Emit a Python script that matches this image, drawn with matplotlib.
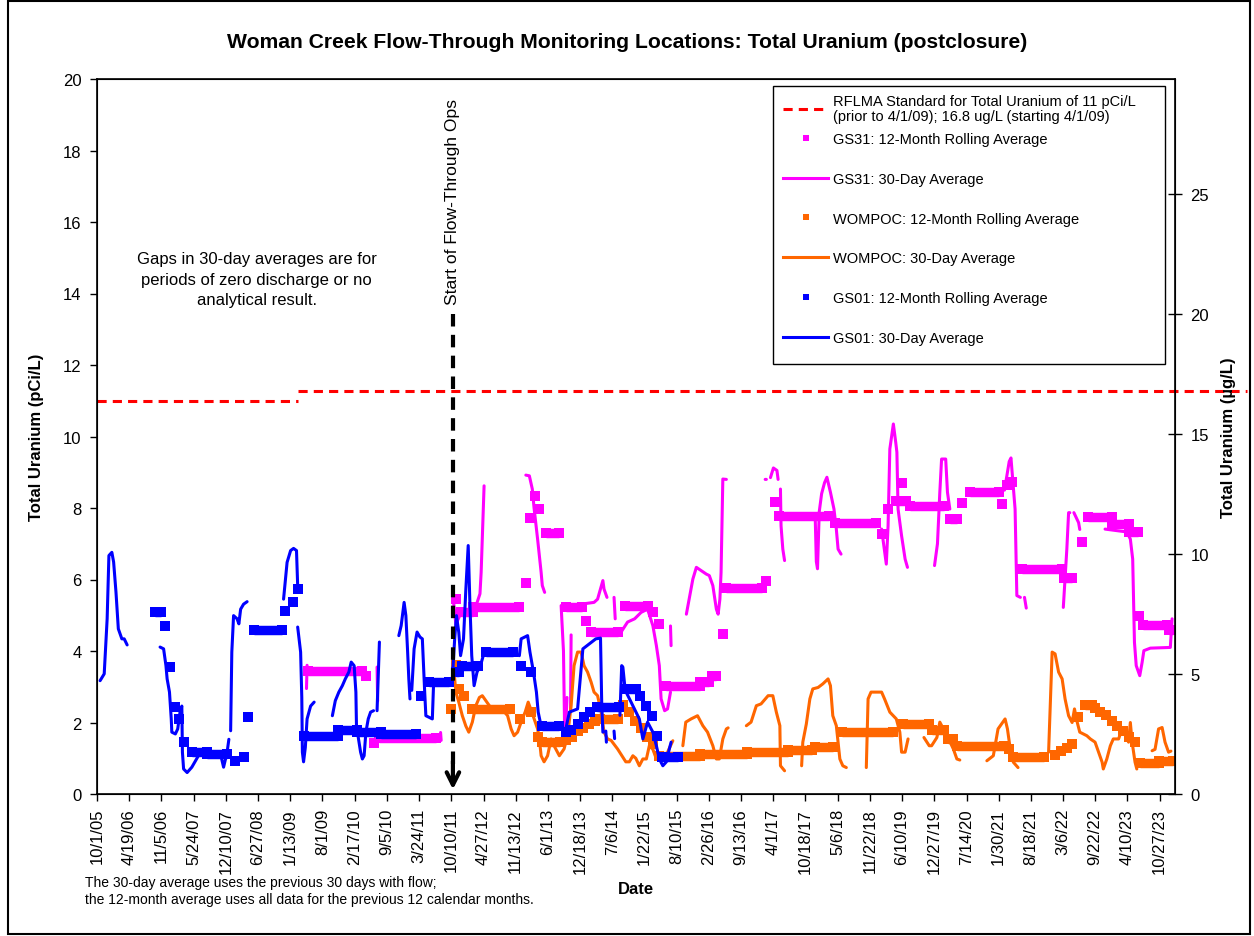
"""Woman Creek flow-through monitoring: total uranium (postclosure)."""

import datetime as dt

import matplotlib

matplotlib.use("Agg")
import matplotlib.pyplot as plt
import numpy as np
from matplotlib.lines import Line2D
from matplotlib.patches import Rectangle

plt.rcParams["font.family"] = ["Liberation Sans", "DejaVu Sans"]

# x values are decimal years
TICK_LABELS = [
    "10/1/05", "4/19/06", "11/5/06", "5/24/07", "12/10/07", "6/27/08", "1/13/09",
    "8/1/09", "2/17/10", "9/5/10", "3/24/11", "10/10/11", "4/27/12", "11/13/12",
    "6/1/13", "12/18/13", "7/6/14", "1/22/15", "8/10/15", "2/26/16", "9/13/16",
    "4/1/17", "10/18/17", "5/6/18", "11/22/18", "6/10/19", "12/27/19", "7/14/20",
    "1/30/21", "8/18/21", "3/6/22", "9/22/22", "4/10/23", "10/27/23",
]
X_END = "1/30/24"

PCI_TO_UGL = 1.49
STANDARD_OLD = 11.0  # pCi/L, prior to 4/1/09
STANDARD_NEW_UGL = 16.8  # ug/L, starting 4/1/09
STANDARD_SWITCH_YEAR = 2009.16
STANDARD_LINE_END = 2025.31
FLOW_THROUGH_START = 2011.80

# 30-day averages: segments of (year, pCi/L); gaps between segments
gs01_30day = [
    [(2005.80, 3.17), (2005.87, 3.36), (2005.92, 4.90), (2005.95, 6.67), (2006.00, 6.76),
     (2006.03, 6.49), (2006.07, 5.65), (2006.11, 4.62), (2006.17, 4.34), (2006.21, 4.34),
     (2006.26, 4.17)],
    [(2006.82, 4.11), (2006.88, 4.06), (2006.92, 3.59), (2006.94, 3.22), (2006.98, 2.85),
     (2007.01, 2.10), (2007.02, 1.73), (2007.08, 1.68), (2007.12, 1.82), (2007.16, 2.30),
     (2007.19, 2.46), (2007.20, 1.17), (2007.22, 0.70), (2007.28, 0.60), (2007.36, 0.75),
     (2007.50, 1.15), (2007.85, 1.10), (2007.90, 0.75), (2007.96, 1.17), (2007.99, 1.53)],
    [(2008.02, 1.77), (2008.04, 3.97), (2008.07, 4.99), (2008.13, 4.90), (2008.16, 4.76),
     (2008.19, 5.17), (2008.24, 5.31), (2008.30, 5.38)],
    [(2008.92, 5.45), (2008.98, 6.48), (2009.04, 6.81), (2009.09, 6.87), (2009.14, 6.81),
     (2009.16, 5.83)],
    [(2009.16, 4.67), (2009.21, 3.97), (2009.23, 2.70), (2009.24, 1.17), (2009.26, 0.90),
     (2009.29, 1.30), (2009.32, 2.10), (2009.38, 2.46), (2009.44, 2.57)],
    [(2009.75, 2.19), (2009.80, 2.61), (2009.86, 2.85), (2009.92, 3.03), (2009.97, 3.22),
     (2010.03, 3.41), (2010.07, 3.69), (2010.12, 3.59), (2010.15, 2.85), (2010.16, 1.90),
     (2010.23, 1.17), (2010.26, 0.98), (2010.29, 1.07), (2010.32, 1.73), (2010.36, 2.10),
     (2010.40, 2.29), (2010.45, 2.33)],
    [(2010.51, 2.33), (2010.55, 4.25)],
    [(2010.88, 4.43), (2010.92, 4.71), (2010.97, 5.36), (2011.00, 4.99), (2011.03, 3.97),
     (2011.05, 3.22), (2011.07, 2.66)],
    [(2011.10, 2.90), (2011.14, 4.06), (2011.19, 4.53), (2011.24, 4.39), (2011.28, 4.34),
     (2011.30, 3.59), (2011.32, 2.85), (2011.34, 2.19), (2011.39, 2.15), (2011.45, 2.10),
     (2011.47, 3.03), (2011.59, 3.13), (2011.79, 3.22), (2011.83, 4.34), (2011.86, 4.99),
     (2011.90, 4.52), (2011.93, 3.87), (2011.98, 4.34), (2012.02, 5.73), (2012.06, 6.95),
     (2012.09, 5.27), (2012.12, 3.87), (2012.16, 3.03), (2012.21, 3.41), (2012.27, 3.60),
     (2012.33, 3.95), (2012.87, 3.90), (2012.93, 3.87), (2012.96, 4.34), (2013.07, 4.43),
     (2013.11, 3.97), (2013.17, 3.41), (2013.22, 2.85), (2013.25, 2.29), (2013.30, 1.90),
     (2013.64, 1.85), (2013.72, 1.82), (2013.78, 2.29), (2013.92, 2.38), (2014.01, 4.06),
     (2014.12, 4.20), (2014.23, 4.34), (2014.31, 4.36), (2014.33, 2.57), (2014.35, 1.73)],
    [(2014.40, 1.76), (2014.41, 1.45)],
    [(2014.54, 1.76), (2014.55, 1.55)],
    [(2014.64, 2.20), (2014.67, 3.59), (2014.69, 3.55), (2014.73, 2.90), (2014.83, 2.57),
     (2014.97, 2.10), (2015.03, 1.54), (2015.11, 2.01), (2015.20, 1.73), (2015.26, 1.35),
     (2015.31, 0.98), (2015.37, 0.79), (2015.43, 0.90), (2015.48, 1.26), (2015.51, 1.45)],
]

gs31_30day = [
    [(2009.31, 2.95), (2009.32, 3.60)],
    [(2010.51, 3.55), (2010.52, 2.60)],
    [(2011.59, 1.72), (2011.60, 1.50)],
    [(2011.80, 5.55), (2011.85, 4.75), (2011.92, 5.00), (2012.10, 5.15), (2012.20, 5.30),
     (2012.26, 5.60), (2012.28, 6.20), (2012.31, 7.69), (2012.33, 8.62)],
    [(2013.04, 8.92), (2013.10, 8.90), (2013.15, 8.53), (2013.18, 8.00), (2013.24, 7.13),
     (2013.30, 6.20), (2013.32, 5.83), (2013.36, 5.64)],
    [(2013.64, 5.27), (2013.68, 4.00), (2013.70, 1.75), (2013.73, 2.30), (2013.74, 2.70)],
    [(2013.80, 2.30), (2013.81, 4.45)],
    [(2013.83, 5.27), (2013.98, 5.31), (2014.20, 5.36), (2014.26, 5.45), (2014.35, 5.97),
     (2014.37, 5.73), (2014.42, 5.50)],
    [(2014.54, 5.50), (2014.56, 4.90)],
    [(2014.66, 4.53), (2014.77, 4.81), (2014.89, 4.90), (2015.00, 5.08), (2015.11, 5.17),
     (2015.20, 4.71), (2015.26, 4.15), (2015.31, 3.59), (2015.34, 2.66), (2015.40, 2.33),
     (2015.45, 2.38), (2015.50, 2.85)],
    [(2015.50, 4.70), (2015.51, 4.15)],
    [(2015.77, 5.03), (2015.88, 6.01), (2015.94, 6.34), (2016.02, 6.25), (2016.11, 6.15),
     (2016.16, 6.11), (2016.22, 5.83), (2016.28, 5.17), (2016.31, 5.03), (2016.34, 5.45),
     (2016.36, 6.20), (2016.39, 8.81), (2016.45, 8.80)],
    [(2017.11, 8.80), (2017.13, 8.80)],
    [(2017.20, 8.85), (2017.25, 9.12), (2017.31, 9.05), (2017.33, 8.80)],
    [(2017.37, 8.53), (2017.38, 7.50), (2017.41, 6.85), (2017.44, 6.53)],
    [(2017.96, 7.80), (2017.98, 6.50), (2018.00, 6.30), (2018.03, 7.90), (2018.07, 8.40),
     (2018.12, 8.71), (2018.16, 8.86), (2018.22, 8.44), (2018.28, 7.97), (2018.32, 7.41),
     (2018.35, 6.85), (2018.40, 6.71)],
    [(2019.09, 7.41), (2019.17, 6.43), (2019.20, 7.50), (2019.23, 9.65), (2019.29, 10.35),
     (2019.33, 9.84), (2019.35, 9.56), (2019.37, 7.97), (2019.43, 7.22), (2019.49, 6.57),
     (2019.53, 6.34)],
    [(2019.99, 6.39), (2020.04, 7.00), (2020.08, 8.44), (2020.11, 9.37), (2020.18, 9.37),
     (2020.21, 8.44), (2020.25, 7.97)],
    [(2021.18, 8.50), (2021.22, 8.90), (2021.26, 9.30), (2021.29, 9.40), (2021.36, 7.97),
     (2021.39, 5.55), (2021.45, 5.50)],
    [(2021.52, 5.50), (2021.55, 5.20)],
    [(2022.18, 5.22), (2022.24, 6.85), (2022.27, 7.87), (2022.29, 7.87)],
    [(2022.36, 7.87), (2022.44, 7.59), (2022.46, 7.40)],
    [(2022.89, 7.41), (2023.26, 7.33), (2023.32, 7.13), (2023.36, 6.57), (2023.39, 4.24),
     (2023.42, 3.59), (2023.48, 3.31), (2023.52, 3.68), (2023.55, 4.01), (2023.66, 4.08),
     (2024.00, 4.10), (2024.03, 4.90)],
]

wompoc_30day = [
    [(2011.81, 3.59), (2011.85, 2.85), (2011.90, 2.57), (2011.96, 2.19), (2012.02, 1.90),
     (2012.07, 1.73), (2012.13, 2.01), (2012.19, 2.47), (2012.25, 2.70), (2012.30, 2.75),
     (2012.45, 2.40), (2012.62, 2.40), (2012.73, 2.19), (2012.79, 1.82), (2012.84, 1.63),
     (2012.90, 1.73), (2012.96, 2.01), (2013.03, 2.30), (2013.08, 2.57), (2013.14, 2.30),
     (2013.24, 1.82), (2013.27, 1.54), (2013.30, 1.07), (2013.35, 0.90), (2013.41, 1.07),
     (2013.47, 1.54), (2013.52, 1.35), (2013.61, 1.07), (2013.69, 1.26), (2013.75, 1.63),
     (2013.81, 2.47), (2013.86, 3.59), (2013.92, 3.97), (2013.98, 3.97), (2014.03, 3.59),
     (2014.09, 3.41), (2014.15, 3.13), (2014.20, 2.85), (2014.26, 2.75), (2014.32, 2.30),
     (2014.37, 1.73), (2014.43, 1.54), (2014.49, 1.50), (2014.60, 1.26), (2014.69, 1.03),
     (2014.74, 0.90), (2014.80, 0.90), (2014.86, 1.07), (2014.91, 1.00), (2014.97, 0.79),
     (2015.03, 0.98), (2015.09, 0.98), (2015.14, 1.35), (2015.20, 1.25), (2015.26, 0.98)],
    [(2015.45, 1.17), (2015.54, 1.49)],
    [(2015.71, 1.35), (2015.76, 2.01), (2015.85, 2.10), (2015.96, 2.19), (2016.05, 1.91),
     (2016.13, 1.73), (2016.22, 1.35), (2016.28, 0.98), (2016.33, 0.98), (2016.39, 1.54),
     (2016.45, 1.82), (2016.48, 1.85)],
    [(2016.79, 1.91), (2016.87, 2.01), (2016.96, 2.47), (2017.04, 2.52), (2017.16, 2.75),
     (2017.24, 2.75), (2017.30, 2.29), (2017.36, 1.91), (2017.37, 0.79), (2017.44, 0.65)],
    [(2017.73, 0.79), (2017.75, 1.45), (2017.81, 1.96), (2017.87, 2.66), (2017.92, 2.94),
     (2018.01, 2.98), (2018.09, 3.08), (2018.18, 3.22), (2018.22, 3.03), (2018.26, 2.19),
     (2018.32, 1.91), (2018.38, 0.98), (2018.43, 0.79), (2018.49, 0.74)],
    [(2018.83, 0.74), (2018.86, 2.66), (2018.91, 2.85), (2019.09, 2.85), (2019.14, 2.66),
     (2019.23, 2.29), (2019.34, 2.10), (2019.40, 1.73), (2019.43, 1.17), (2019.49, 1.17),
     (2019.54, 1.54)],
    [(2019.81, 1.58), (2019.90, 1.35), (2019.94, 1.35), (2020.03, 1.58), (2020.08, 2.01),
     (2020.14, 1.82), (2020.23, 1.54), (2020.31, 1.26), (2020.37, 0.98), (2020.42, 0.95)],
    [(2020.88, 0.93), (2020.99, 1.07), (2021.07, 1.82), (2021.13, 1.96), (2021.19, 2.10),
     (2021.23, 1.82), (2021.27, 1.35), (2021.33, 0.89), (2021.41, 0.74)],
    [(2021.93, 1.17), (2021.99, 3.97), (2022.04, 3.92), (2022.10, 3.41), (2022.16, 3.22),
     (2022.21, 2.66), (2022.27, 2.19), (2022.33, 2.00), (2022.37, 2.38), (2022.41, 2.05),
     (2022.46, 1.73), (2022.58, 1.63), (2022.64, 1.54), (2022.72, 1.45), (2022.78, 1.17),
     (2022.84, 0.89), (2022.86, 0.70), (2022.92, 0.98), (2022.98, 1.35), (2023.03, 1.54),
     (2023.12, 1.54), (2023.18, 1.82), (2023.29, 1.45), (2023.32, 2.00), (2023.35, 1.45),
     (2023.40, 0.89), (2023.43, 0.70)],
    [(2023.69, 1.21), (2023.74, 1.25), (2023.80, 1.82), (2023.86, 1.86), (2023.91, 1.45),
     (2023.97, 1.17), (2024.01, 1.20)],
]

# 12-month rolling averages: runs of (first year, last year, pCi/L)
gs01_12month = [
    (2006.74, 2006.83, 5.08), (2006.90, 2006.90, 4.71), (2006.99, 2006.99, 3.55),
    (2007.07, 2007.07, 2.43), (2007.14, 2007.14, 2.10), (2007.22, 2007.22, 1.45),
    (2007.36, 2007.62, 1.17), (2007.62, 2007.95, 1.12), (2008.10, 2008.10, 0.93),
    (2008.24, 2008.24, 1.03), (2008.32, 2008.32, 2.15), (2008.41, 2008.90, 4.60),
    (2008.95, 2008.95, 5.13), (2009.08, 2009.08, 5.36), (2009.16, 2009.16, 5.73),
    (2009.27, 2009.85, 1.62), (2009.85, 2010.17, 1.80), (2010.17, 2010.57, 1.73),
    (2010.57, 2011.17, 1.67), (2011.25, 2011.25, 2.74), (2011.39, 2011.73, 3.13),
    (2011.85, 2011.90, 3.41), (2011.95, 2012.22, 3.59), (2012.36, 2012.83, 3.97),
    (2012.95, 2012.95, 3.59), (2013.12, 2013.12, 3.41), (2013.32, 2013.61, 1.90),
    (2013.72, 2013.72, 1.73), (2013.81, 2013.81, 1.78), (2013.92, 2013.92, 1.95),
    (2014.03, 2014.03, 2.15), (2014.13, 2014.13, 2.30), (2014.25, 2014.62, 2.43),
    (2014.74, 2014.92, 2.94), (2014.98, 2014.98, 2.75), (2015.09, 2015.09, 2.47),
    (2015.18, 2015.18, 2.19), (2015.27, 2015.27, 1.63), (2015.36, 2015.63, 1.03),
]

gs31_12month = [
    (2009.34, 2010.25, 3.45), (2010.33, 2010.33, 3.30), (2010.45, 2010.45, 1.42),
    (2010.55, 2011.51, 1.56), (2011.85, 2011.85, 5.45), (2011.93, 2012.15, 5.10),
    (2012.15, 2012.92, 5.22), (2013.04, 2013.04, 5.90), (2013.11, 2013.11, 7.71),
    (2013.20, 2013.20, 8.34), (2013.27, 2013.27, 7.97), (2013.38, 2013.61, 7.30),
    (2013.72, 2014.00, 5.22), (2014.07, 2014.07, 4.85), (2014.15, 2014.60, 4.53),
    (2014.72, 2015.12, 5.25), (2015.20, 2015.20, 5.08), (2015.30, 2015.30, 4.76),
    (2015.43, 2016.00, 3.02), (2016.00, 2016.15, 3.12), (2016.20, 2016.28, 3.31),
    (2016.40, 2016.40, 4.47), (2016.45, 2017.05, 5.77), (2017.12, 2017.12, 5.96),
    (2017.27, 2017.27, 8.17), (2017.35, 2018.20, 7.78), (2018.30, 2018.99, 7.57),
    (2019.10, 2019.10, 7.27), (2019.20, 2019.20, 7.97), (2019.34, 2019.51, 8.20),
    (2019.43, 2019.43, 8.71), (2019.57, 2020.15, 8.06), (2020.25, 2020.38, 7.69),
    (2020.46, 2020.46, 8.13), (2020.59, 2021.08, 8.45), (2021.14, 2021.14, 8.10),
    (2021.22, 2021.22, 8.65), (2021.31, 2021.31, 8.72), (2021.47, 2022.15, 6.29),
    (2022.20, 2022.33, 6.03), (2022.50, 2022.50, 7.04), (2022.60, 2023.00, 7.76),
    (2023.00, 2023.30, 7.55), (2023.30, 2023.45, 7.33), (2023.46, 2023.46, 4.99),
    (2023.54, 2023.95, 4.74), (2023.98, 2024.04, 4.60),
]

wompoc_12month = [
    (2011.76, 2011.76, 2.38), (2011.85, 2011.85, 3.60), (2011.90, 2011.90, 2.94),
    (2011.99, 2011.99, 2.75), (2012.12, 2012.77, 2.38), (2012.94, 2012.94, 2.10),
    (2013.12, 2013.12, 2.29), (2013.24, 2013.24, 1.59), (2013.31, 2013.62, 1.45),
    (2013.72, 2013.72, 1.50), (2013.82, 2013.82, 1.60), (2013.92, 2013.92, 1.75),
    (2014.02, 2014.02, 1.85), (2014.12, 2014.12, 1.95), (2014.22, 2014.22, 2.05),
    (2014.30, 2014.60, 2.10), (2014.70, 2014.70, 2.50), (2014.80, 2014.80, 2.30),
    (2014.90, 2014.90, 2.05), (2015.00, 2015.00, 1.85), (2015.10, 2015.10, 1.60),
    (2015.20, 2015.20, 1.40), (2015.30, 2016.00, 1.05), (2016.00, 2016.80, 1.12),
    (2016.80, 2017.50, 1.17), (2017.50, 2017.90, 1.22), (2017.95, 2018.27, 1.31),
    (2018.42, 2019.29, 1.73), (2019.45, 2019.90, 1.95), (2019.95, 2020.15, 1.78),
    (2020.22, 2020.30, 1.55), (2020.37, 2021.17, 1.33), (2021.25, 2021.25, 1.26),
    (2021.32, 2021.86, 1.03), (2022.04, 2022.04, 1.10), (2022.14, 2022.14, 1.20),
    (2022.24, 2022.24, 1.30), (2022.33, 2022.33, 1.40), (2022.43, 2022.43, 2.15),
    (2022.55, 2022.67, 2.48), (2022.72, 2022.72, 2.40), (2022.80, 2022.80, 2.30),
    (2022.90, 2022.90, 2.20), (2023.00, 2023.00, 2.05), (2023.10, 2023.10, 1.90),
    (2023.20, 2023.20, 1.75), (2023.30, 2023.30, 1.60), (2023.40, 2023.40, 1.45),
    (2023.48, 2023.80, 0.88), (2023.80, 2024.04, 0.92),
]

STANDARD_LABEL = "RFLMA Standard for Total Uranium of 11 pCi/L\n(prior to 4/1/09); 16.8 ug/L (starting 4/1/09)"
SERIES_LABELS = [
    "GS31: 12-Month Rolling Average",
    "GS31: 30-Day Average",
    "WOMPOC: 12-Month Rolling Average",
    "WOMPOC: 30-Day Average",
    "GS01: 12-Month Rolling Average",
    "GS01: 30-Day Average",
]

RED = "#FF0000"
MAGENTA = "#FF00FF"
ORANGE = "#FF6600"
BLUE = "#0000FF"
SQUARE_PT = 6.8
LINE_PT = 2.2
W, H = 1254, 937


def _decimal_year(label: str) -> float:
    month, day, year = (int(part) for part in label.split("/"))
    date = dt.date(2000 + year, month, day)
    return date.year + (date - dt.date(date.year, 1, 1)).days / 365.25


def _segments_xy(segments):
    xs, ys = [], []
    for seg in segments:
        for x, y in seg:
            xs.append(x)
            ys.append(y)
        xs.append(np.nan)
        ys.append(np.nan)
    return xs, ys


def _plot_runs(ax, runs, color):
    starts = [r[0] for r in runs]
    ends = [r[1] for r in runs]
    vals = [r[2] for r in runs]
    ax.hlines(vals, starts, ends, colors=color, linewidth=SQUARE_PT, capstyle="butt")
    ax.plot(starts + ends, vals + vals, linestyle="none", marker="s",
            markersize=SQUARE_PT, markeredgewidth=0, color=color)


def _plot_line(ax, segments, color):
    xs, ys = _segments_xy(segments)
    ax.plot(xs, ys, color=color, linewidth=LINE_PT, solid_capstyle="round",
            solid_joinstyle="round")


def _fig_xy(px, py):
    return px / W, 1 - py / H


fig = plt.figure(figsize=(W / 100, H / 100), dpi=100)
fig.patches.append(Rectangle((8 / W, 2 / H), 1242 / W, 933 / H,
                             transform=fig.transFigure, fill=False,
                             edgecolor="black", linewidth=1.5))
ax = fig.add_axes([97 / W, 1 - 795 / H, 1078 / W, 715 / H])

x_start = _decimal_year(TICK_LABELS[0])
x_end = _decimal_year(X_END)
dash = (0, (3, 2))

ax.plot([x_start, STANDARD_SWITCH_YEAR], [STANDARD_OLD, STANDARD_OLD], color=RED,
        linewidth=LINE_PT, linestyle=dash, clip_on=False)
ax.plot([STANDARD_SWITCH_YEAR, STANDARD_LINE_END], [STANDARD_NEW_UGL / PCI_TO_UGL] * 2,
        color=RED, linewidth=LINE_PT, linestyle=dash, clip_on=False)

_plot_runs(ax, gs31_12month, MAGENTA)
_plot_line(ax, gs31_30day, MAGENTA)
_plot_runs(ax, wompoc_12month, ORANGE)
_plot_line(ax, wompoc_30day, ORANGE)
_plot_runs(ax, gs01_12month, BLUE)
_plot_line(ax, gs01_30day, BLUE)

# start of flow-through operations
ax.plot([FLOW_THROUGH_START] * 2, [13.43, 0.7], color="black", linewidth=3,
        linestyle=(0, (3, 2)))
ax.annotate("", xy=(FLOW_THROUGH_START, 0.05), xytext=(FLOW_THROUGH_START, 1.0),
            arrowprops=dict(arrowstyle="->,head_length=0.9,head_width=0.45",
                            color="black", linewidth=3))
ax.text(FLOW_THROUGH_START, 13.7, "Start of Flow-Through Ops", rotation=90,
        ha="center", va="bottom", fontsize=12.6)
ax.text(2008.46, 14.4, "Gaps in 30-day averages are for\nperiods of zero discharge or no\nanalytical result.",
        ha="center", va="center", fontsize=12, linespacing=1.45)

ax.set_xlim(x_start, x_end)
ax.set_ylim(0, 20)
ax.set_yticks(np.arange(0, 21, 2))
ax.set_xticks([_decimal_year(t) for t in TICK_LABELS])
ax.set_xticklabels(TICK_LABELS, rotation=90)
ax.tick_params(axis="both", labelsize=12, direction="out", length=5, width=1)
ax.tick_params(axis="y", pad=6)
ax.tick_params(axis="x", pad=5)
for side in ("left", "bottom", "top"):
    ax.spines[side].set_linewidth(1.2)
ax.set_ylabel("Total Uranium (pCi/L)", fontsize=12, fontweight="bold", labelpad=14)

ax2 = ax.twinx()
ax2.set_ylim(0, 20 * PCI_TO_UGL)
ax2.set_yticks(np.arange(0, 26, 5))
ax2.tick_params(axis="y", labelsize=12, direction="inout", length=10, width=1, pad=6)
ax2.spines["right"].set_linewidth(1.2)
ax2.set_ylabel("Total Uranium (µg/L)", fontsize=12, fontweight="bold", labelpad=9)

# legend: framed box holding the standard entry and the six series entries
square = dict(linestyle="none", marker="s", markersize=5, markeredgewidth=0)
series_handles = [
    Line2D([], [], color=MAGENTA, **square),
    Line2D([], [], color=MAGENTA, linewidth=LINE_PT),
    Line2D([], [], color=ORANGE, **square),
    Line2D([], [], color=ORANGE, linewidth=LINE_PT),
    Line2D([], [], color=BLUE, **square),
    Line2D([], [], color=BLUE, linewidth=LINE_PT),
]
legend_style = dict(loc="center left", bbox_transform=fig.transFigure, frameon=False,
                    borderaxespad=0, borderpad=0, fontsize=10.5, handlelength=3.1,
                    handletextpad=0.35)
top_legend = ax2.legend([Line2D([], [], color=RED, linewidth=LINE_PT, linestyle=dash)],
                        [STANDARD_LABEL], bbox_to_anchor=_fig_xy(783, 109.5), **legend_style)
top_legend.get_texts()[0].set_linespacing(1.15)
ax2.add_artist(top_legend)
ax2.legend(series_handles, SERIES_LABELS, bbox_to_anchor=_fig_xy(783, 239.5),
           labelspacing=1.77, **legend_style)
fig.patches.append(Rectangle(_fig_xy(773, 365), 392 / W, 278 / H, transform=fig.transFigure,
                             fill=False, edgecolor="black", linewidth=1.0))

fig.text(0.5004, 1 - 43 / H, "Woman Creek Flow-Through Monitoring Locations: Total Uranium (postclosure)",
         ha="center", va="center", fontsize=15.2, fontweight="bold")
fig.text(636 / W, 1 - 890 / H, "Date", ha="center", va="center", fontsize=12, fontweight="bold")
fig.text(85 / W, 1 - 891.5 / H,
         "The 30-day average uses the previous 30 days with flow;\n"
         "the 12-month average uses all data for the previous 12 calendar months.",
         ha="left", va="center", fontsize=10, linespacing=1.2)

fig.savefig("out.png", dpi=100)
